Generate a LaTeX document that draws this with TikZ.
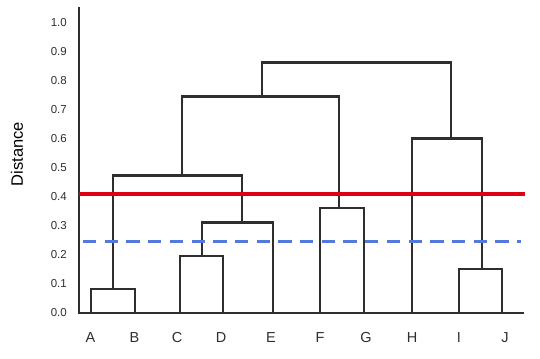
\documentclass[tikz,border=0pt]{standalone}
\usepackage{fontspec}
\setmainfont{Liberation Sans}
\definecolor{branch}{HTML}{2E2E2E}
\definecolor{cutred}{RGB}{222,0,16}
\definecolor{cutblue}{RGB}{84,120,220}
\tikzset{
  tick/.style={anchor=east,inner sep=0pt,font=\fontsize{11.5}{12}\selectfont,text=branch},
  leaf/.style={anchor=base,inner sep=0pt,font=\fontsize{14.5}{15}\selectfont,text=branch},
  dendro/.style={draw=branch,line width=2.7pt},
}
\begin{document}
\begin{tikzpicture}[x=1pt,y=290pt]
      \useasboundingbox (0,-0.1586) rectangle (540,1.0793);
      \draw
        (67,0.0) node[tick] (t0){0.0}
        (67,0.1) node[tick] (t1){0.1}
        (67,0.2) node[tick] (t2){0.2}
        (67,0.3) node[tick] (t3){0.3}
        (67,0.4) node[tick] (t4){0.4}
        (67,0.5) node[tick] (t5){0.5}
        (67,0.6) node[tick] (t6){0.6}
        (67,0.7) node[tick] (t7){0.7}
        (67,0.8) node[tick] (t8){0.8}
        (67,0.9) node[tick] (t9){0.9}
        (67,1.0) node[tick] (t10){1.0};
      \node[rotate=90,inner sep=0pt,font=\fontsize{16.5}{17}\selectfont] (ylab) at (17,0.548) {Distance};
      \draw
        (90.5,-0.1024) node[leaf] (A){A}
        (134.5,-0.1024) node[leaf] (B){B}
        (177,-0.1024) node[leaf] (C){C}
        (221,-0.1024) node[leaf] (D){D}
        (271,-0.1024) node[leaf] (E){E}
        (320,-0.1024) node[leaf] (F){F}
        (366,-0.1024) node[leaf] (G){G}
        (412,-0.1024) node[leaf] (H){H}
        (459,-0.1024) node[leaf] (I){I}
        (505,-0.1024) node[leaf] (J){J};
      % leaves on the baseline
      \coordinate (a) at (91,0);
      \coordinate (b) at (135,0);
      \coordinate (c) at (180,0);
      \coordinate (d) at (223,0);
      \coordinate (e) at (273,0);
      \coordinate (f) at (320,0);
      \coordinate (g) at (364,0);
      \coordinate (h) at (412,0);
      \coordinate (i) at (459,0);
      \coordinate (j) at (502,0);
      % merges
      \coordinate (ab) at (113,0.083);
      \coordinate (cd) at (202,0.197);
      \coordinate (cde) at (242,0.311);
      \coordinate (fg) at (339,0.362);
      \coordinate (ij) at (482,0.152);
      \coordinate (ae) at (182,0.475);
      \coordinate (hj) at (451,0.602);
      \coordinate (ag) at (262,0.746);
      \coordinate (top) at (356,0.864);
      % axes
      \coordinate (o) at (79,0);
      \coordinate (yend) at (79,1.055);
      \coordinate (xend) at (524,0);
      \draw[dendro] (yend) -- (o) -- (xend);
      \begin{scope}[dendro]
        \draw (a) |- (ab) -| (b);
        \draw (c) |- (cd) -| (d);
        \draw (cd) |- (cde) -| (e);
        \draw (f) |- (fg) -| (g);
        \draw (i) |- (ij) -| (j);
        \draw (ab) |- (ae) -| (cde);
        \draw (h) |- (hj) -| (ij);
        \draw (ae) |- (ag) -| (fg);
        \draw (ag) |- (top) -| (hj);
      \end{scope}
      % cut lines
      \coordinate (r0) at (79,0.411);
      \coordinate (r1) at (525,0.411);
      \coordinate (b0) at (83,0.246);
      \coordinate (b1) at (521,0.246);
      \draw[cutred,line width=3.8pt] (r0) -- (r1);
      \draw[cutblue,line width=3pt,dash pattern=on 13.3pt off 8.4pt] (b0) -- (b1);
    \end{tikzpicture}
\end{document}
